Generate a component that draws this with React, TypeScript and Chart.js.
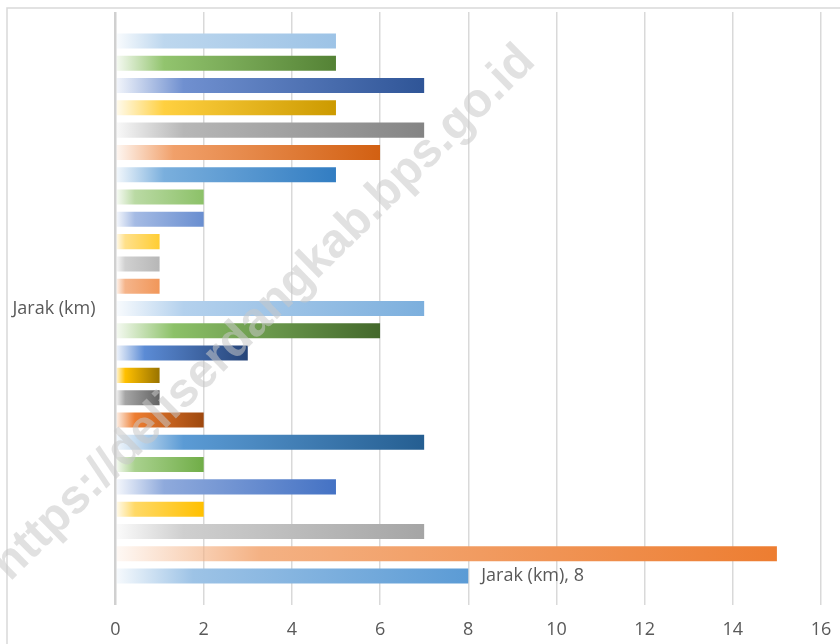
import React, { useEffect, useRef } from "react";
import { Chart, registerables } from "chart.js";

Chart.register(...registerables);

// ---- data (listed from the bottom bar to the top bar) ----
const categories = ["Jarak (km)"];
const seriesValues = [8, 15, 7, 2, 5, 2, 7, 2, 1, 1, 3, 6, 7, 1, 1, 1, 2, 2, 5, 6, 7, 5, 7, 5, 5];
const seriesNames = seriesValues.map((_, i) => `Seri ${i + 1}`);
const xTicks = [0, 2, 4, 6, 8, 10, 12, 14, 16];
const watermarkText = "https://deliserdangkab.bps.go.id";

// ---- styles (bottom to top) ----
const endColors = [
  "#5B9BD5", "#ED7D31", "#A5A5A5", "#FFC000", "#4472C4", "#70AD47",
  "#255E91", "#9E480E", "#636363", "#997300", "#264478", "#43682B",
  "#7CAFDD", "#F1975A", "#B7B7B7", "#FFCD33", "#698ED0", "#8CC168",
  "#327DC2", "#D26012", "#848484", "#CC9A00", "#2F5597", "#548235", "#9DC3E6",
];
const midColors = [
  "#9DC3E6", "#F4B183", "#CFCFCF", "#FFD966", "#8FAADC", "#A9D18E",
  "#5B9BD5", "#ED7D31", "#A5A5A5", "#FFC000", "#5B8BD5", "#8CC168",
  "#B4D1ED", "#F5B48A", "#D0D0D0", "#FFE08A", "#A5BBE4", "#BADAA4",
  "#7AAFDD", "#F1A06A", "#B7B7B7", "#FFD040", "#7090D0", "#92C46E", "#BDD7EE",
];

const FONT = "'Open Sans', 'Noto Sans', sans-serif";
const TEXT_COLOR = "#595959";

function withAlpha(hex: string, a: number) {
  const n = parseInt(hex.slice(1), 16);
  return `rgba(${(n >> 16) & 255},${(n >> 8) & 255},${n & 255},${a})`;
}

const framePlugin = {
  id: "frame",
  beforeDraw(chart: any) {
    const c = chart.ctx;
    c.save();
    c.fillStyle = "#ffffff";
    c.fillRect(0, 0, chart.width, chart.height);
    c.strokeStyle = "#d9d9d9";
    c.lineWidth = 1.5;
    c.beginPath();
    c.moveTo(7, chart.height + 5);
    c.lineTo(7, 8);
    c.lineTo(chart.width + 5, 8);
    c.stroke();
    c.restore();
  },
};

const dataLabelPlugin = {
  id: "dataLabel",
  afterDatasetsDraw(chart: any) {
    const dsIndex = seriesValues.length - 1; // bottom bar dataset
    const meta = chart.getDatasetMeta(dsIndex);
    const el = meta.data[0];
    if (!el) return;
    const c = chart.ctx;
    c.save();
    c.font = `18px ${FONT}`;
    c.fillStyle = TEXT_COLOR;
    c.textAlign = "left";
    c.textBaseline = "middle";
    c.fillText(`${categories[0]}, ${seriesValues[0]}`, el.x + 13, el.y);
    c.restore();
  },
};

const watermarkPlugin = {
  id: "watermark",
  afterDraw(chart: any) {
    const c = chart.ctx;
    const x0 = 10, y0 = 582, x1 = 537, y1 = 63;
    const len = Math.hypot(x1 - x0, y1 - y0);
    const ang = Math.atan2(y1 - y0, x1 - x0);
    c.save();
    c.translate((x0 + x1) / 2, (y0 + y1) / 2);
    c.rotate(ang);
    let size = 48;
    c.font = `bold ${size}px 'Liberation Sans', Arial, sans-serif`;
    const w = c.measureText(watermarkText).width;
    size = size * (len / w);
    c.font = `bold ${size}px 'Liberation Sans', Arial, sans-serif`;
    c.fillStyle = "rgba(200,200,200,0.55)";
    c.textAlign = "center";
    c.textBaseline = "alphabetic";
    c.fillText(watermarkText, 0, 0);
    c.restore();
  },
};

export default function App() {
  const ref = useRef<HTMLCanvasElement | null>(null);

  useEffect(() => {
    if (!ref.current) return;
    const datasets = seriesValues
      .map((v, i) => ({
        label: seriesNames[i],
        data: [v],
        backgroundColor: (ctx: any) => {
          const chart = ctx.chart;
          const raw = ctx.raw;
          if (!chart.chartArea || typeof raw !== "number") return endColors[i];
          const xs = chart.scales.x;
          const a = xs.getPixelForValue(0);
          const b = xs.getPixelForValue(raw);
          if (!isFinite(a) || !isFinite(b) || b - a < 1) return endColors[i];
          const g = chart.ctx.createLinearGradient(a, 0, b, 0);
          g.addColorStop(0, withAlpha(midColors[i], 0.08));
          g.addColorStop(0.22, midColors[i]);
          g.addColorStop(1, endColors[i]);
          return g;
        },
        borderWidth: 0,
        categoryPercentage: 0.94,
        barPercentage: 0.675,
      }))
      .reverse();

    const chart = new Chart(ref.current, {
      type: "bar",
      data: { labels: categories, datasets },
      plugins: [framePlugin, dataLabelPlugin, watermarkPlugin],
      options: {
        indexAxis: "y",
        animation: false,
        responsive: false,
        devicePixelRatio: 1,
        layout: { padding: { top: 12, right: 19, left: 0, bottom: 0 } },
        plugins: {
          legend: { display: false },
          tooltip: { enabled: false },
          title: { display: false },
        },
        scales: {
          x: {
            type: "linear",
            min: xTicks[0],
            max: xTicks[xTicks.length - 1],
            afterBuildTicks: (scale: any) => {
              scale.ticks = xTicks.map((v) => ({ value: v }));
            },
            afterFit: (scale: any) => {
              scale.height = 39;
              scale.paddingLeft = 0;
              scale.paddingRight = 0;
              scale.paddingTop = 0;
              scale.paddingBottom = 0;
            },
            ticks: {
              color: TEXT_COLOR,
              font: { family: FONT, size: 18 },
              padding: 14,
              maxRotation: 0,
            },
            grid: {
              color: (ctx: any) => (ctx.tick && ctx.tick.value === 0 ? "#d0d0d0" : "#d9d9d9"),
              lineWidth: (ctx: any) => (ctx.tick && ctx.tick.value === 0 ? 2.5 : 1.5),
              drawTicks: false,
            },
            border: { display: false },
          },
          y: {
            type: "category",
            afterFit: (scale: any) => {
              scale.width = 115.5;
              scale.paddingLeft = 0;
              scale.paddingRight = 0;
              scale.paddingTop = 0;
              scale.paddingBottom = 0;
            },
            ticks: {
              color: TEXT_COLOR,
              font: { family: FONT, size: 18 },
              padding: 20,
            },
            grid: { display: false, drawTicks: false },
            border: { display: false },
          },
        },
      },
    });
    return () => chart.destroy();
  }, []);

  return (
    <div style={{ position: "fixed", left: 0, top: 0, width: 840, height: 644, background: "#fff" }}>
      <canvas ref={ref} width={840} height={644} style={{ display: "block", width: 840, height: 644 }} />
    </div>
  );
}
